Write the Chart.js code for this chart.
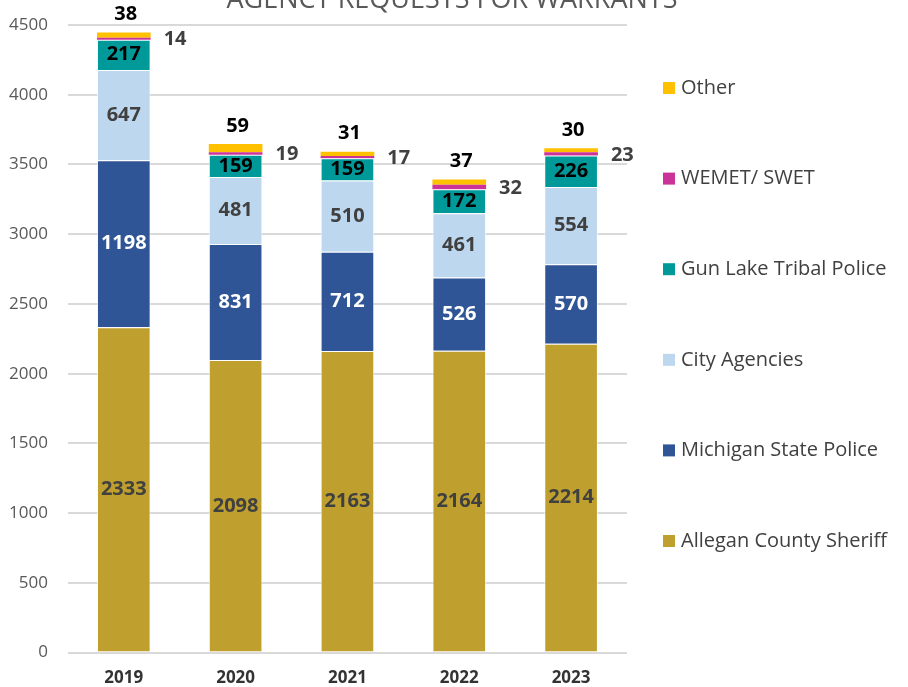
<!DOCTYPE html>
<html>
<head>
<meta charset="utf-8">
<script src="https://cdn.jsdelivr.net/npm/chart.js@4"></script>
<style>
    html, body { margin: 0; padding: 0; background: #fff; }
    #wrap { width: 908px; height: 687px; }
</style>
</head>
<body>
<div id="wrap"><canvas id="chart"></canvas></div>
<script>
const years = ['2019', '2020', '2021', '2022', '2023'];
const allegan = [2333, 2098, 2163, 2164, 2214];
const michigan = [1198, 831, 712, 526, 570];
const city = [647, 481, 510, 461, 554];
const gunLake = [217, 159, 159, 172, 226];
const wemet = [14, 19, 17, 32, 23];
const other = [38, 59, 31, 37, 30];
const yTicks = [0, 500, 1000, 1500, 2000, 2500, 3000, 3500, 4000, 4500];

const title = 'AGENCY REQUESTS FOR WARRANTS';
const fontName = "'Open Sans', sans-serif";

// where each dataset puts its value label
const labelStyle = {
    inside: ['Allegan County Sheriff', 'Michigan State Police', 'City Agencies', 'Gun Lake Tribal Police'],
    right: ['WEMET/ SWET'],
    above: ['Other']
};

const makeSet = (label, data, color, textColor, border) => ({
    label: label,
    data: data,
    backgroundColor: color,
    borderColor: 'rgba(255,255,255,0.7)',
    borderWidth: border,
    textColor: textColor
});

const titlePlugin = {
    id: 'cutTitle',
    afterDraw(chart) {
        const ctx = chart.ctx;
        ctx.save();
        ctx.font = '27px ' + fontName;
        ctx.fillStyle = '#595959';
        ctx.textAlign = 'center';
        ctx.textBaseline = 'alphabetic';
        ctx.fillText(title, 452, 8);
        ctx.restore();
    }
};

const valueLabels = {
    id: 'valueLabels',
    afterDatasetsDraw(chart) {
        const ctx = chart.ctx;
        ctx.save();
        ctx.font = 'bold 20px ' + fontName;
        ctx.textBaseline = 'middle';
        chart.data.datasets.forEach((ds, i) => {
            const meta = chart.getDatasetMeta(i);
            meta.data.forEach((bar, j) => {
                const txt = String(ds.data[j]);
                ctx.fillStyle = ds.textColor;
                if (labelStyle.inside.includes(ds.label)) {
                    ctx.textAlign = 'center';
                    ctx.fillText(txt, bar.x, (bar.y + bar.base) / 2);
                } else if (labelStyle.right.includes(ds.label)) {
                    ctx.textAlign = 'left';
                    ctx.fillText(txt, bar.x + bar.width / 2 + 13, (bar.y + bar.base) / 2 + 1);
                } else {
                    ctx.textAlign = 'center';
                    ctx.fillText(txt, bar.x + 2, bar.y - 18);
                }
            });
        });
        ctx.restore();
    }
};

// legend on the right, top entry = last dataset
const sideLegend = {
    id: 'sideLegend',
    afterDraw(chart) {
        const ctx = chart.ctx;
        const sets = chart.data.datasets.slice().reverse();
        ctx.save();
        ctx.font = '20px ' + fontName;
        ctx.textBaseline = 'middle';
        ctx.textAlign = 'left';
        sets.forEach((ds, i) => {
            const y = 88 + i * 90.6;
            ctx.fillStyle = ds.backgroundColor;
            ctx.fillRect(663, y - 6, 12, 12);
            ctx.fillStyle = '#404040';
            ctx.fillText(ds.label, 681, y);
        });
        ctx.restore();
    }
};

new Chart(document.getElementById('chart'), {
    type: 'bar',
    data: {
        labels: years,
        datasets: [
            makeSet('Allegan County Sheriff', allegan, '#BFA02E', '#404040', 1),
            makeSet('Michigan State Police', michigan, '#2F5597', '#ffffff', 1),
            makeSet('City Agencies', city, '#BDD7EE', '#404040', 1),
            makeSet('Gun Lake Tribal Police', gunLake, '#00999A', '#000000', 1),
            makeSet('WEMET/ SWET', wemet, '#CC3399', '#404040', 0),
            makeSet('Other', other, '#FFC000', '#000000', 0)
        ]
    },
    options: {
        responsive: true,
        maintainAspectRatio: false,
        animation: false,
        layout: {
            padding: {top: 25, right: 281, bottom: -16, left: -11}
        },
        plugins: {
            legend: {display: false},
            tooltip: {enabled: false},
            title: {display: false}
        },
        datasets: {
            bar: {
                categoryPercentage: 1,
                barPercentage: 0.48
            }
        },
        scales: {
            x: {
                stacked: true,
                border: {display: false},
                grid: {display: false, drawTicks: false},
                ticks: {
                    color: '#333333',
                    padding: 15,
                    font: {family: fontName, size: 17, weight: 'bold'}
                }
            },
            y: {
                stacked: true,
                min: 0,
                max: 4500,
                border: {display: false},
                grid: {color: '#D9D9D9', lineWidth: 2, drawTicks: false},
                afterBuildTicks: axis => {
                    axis.ticks = yTicks.map(v => ({value: v}));
                },
                afterFit: axis => {
                    axis.paddingTop = 0;
                },
                ticks: {
                    color: '#595959',
                    padding: 20,
                    font: {family: fontName, size: 17},
                    callback: value => String(value)
                }
            }
        }
    },
    plugins: [valueLabels, sideLegend, titlePlugin]
});
</script>
</body>
</html>
